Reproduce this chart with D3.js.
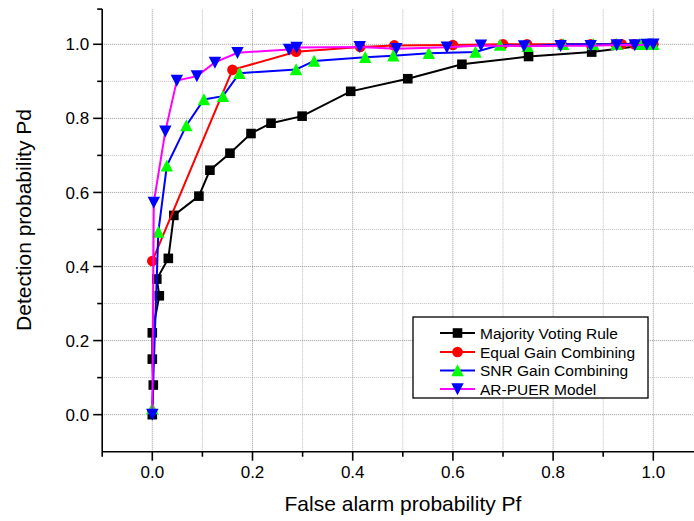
<!DOCTYPE html>
<html><head><meta charset="utf-8">
<script src="https://cdn.jsdelivr.net/npm/d3@7/dist/d3.min.js"></script>
<style>html,body{margin:0;padding:0;background:#fff;overflow:hidden}svg{display:block;font-family:"Liberation Sans",Arial,sans-serif}</style>
</head><body><svg id="c" width="694" height="521"></svg>
<script>
const seriesNames = ["Majority Voting Rule","Equal Gain Combining","SNR Gain Combining","AR-PUER Model"];
const majorityPf = [0,0.002,0,0,0.014,0.009,0.032,0.043,0.093,0.115,0.155,0.197,0.237,0.299,0.396,0.510,0.618,0.751,0.877,1.0];
const majorityPd = [0,0.080,0.150,0.221,0.321,0.366,0.422,0.538,0.590,0.660,0.706,0.759,0.787,0.806,0.873,0.907,0.946,0.967,0.979,1.0];
const equalPf = [0,0.160,0.287,0.415,0.483,0.600,0.700,0.748,0.817,0.875,0.925,0.937,0.962,0.985,1.0];
const equalPd = [0.415,0.931,0.980,0.993,0.997,0.998,1.0,1.0,1.0,1.0,1.0,1.0,1.0,1.0,1.0];
const snrPf = [0,0.012,0.029,0.068,0.103,0.141,0.174,0.287,0.323,0.425,0.481,0.552,0.645,0.694,0.749,0.820,0.880,0.927,0.973,0.985,1.0];
const snrPd = [0.017,0.493,0.672,0.781,0.851,0.860,0.922,0.932,0.955,0.965,0.969,0.976,0.979,0.998,0.995,1.0,1.0,1.0,1.0,1.0,1.0];
const arPf = [0,0.003,0.026,0.049,0.089,0.125,0.170,0.273,0.288,0.414,0.487,0.588,0.656,0.742,0.815,0.875,0.927,0.963,0.987,1.0];
const arPd = [0,0.573,0.765,0.902,0.914,0.951,0.977,0.986,0.991,0.993,0.988,0.992,0.997,0.995,0.996,0.996,0.998,0.998,0.999,1.0];
const xTickLabels = ["0.0","0.2","0.4","0.6","0.8","1.0"];
const yTickLabels = ["0.0","0.2","0.4","0.6","0.8","1.0"];
const xTitle = "False alarm probability Pf";
const yTitle = "Detection probability Pd";

const svg = d3.select("#c");
const x = d3.scaleLinear().domain([-0.1, 1.1]).range([102.2, 703.4]);
const y = d3.scaleLinear().domain([-0.1, 1.095]).range([451.7, 9.1]);

// grid
const gridVals = d3.range(0, 11).map(i => i / 10);
const grid = svg.append("g");
gridVals.forEach((v, i) => {
  const major = i % 2 === 0;
  grid.append("line").attr("x1", x(v)).attr("x2", x(v)).attr("y1", y(-0.1)).attr("y2", y(1.095))
    .attr("stroke", major ? "#999" : "#bbb").attr("stroke-width", 1).attr("stroke-dasharray", "1,1");
  grid.append("line").attr("x1", x(-0.1)).attr("x2", 694).attr("y1", y(v)).attr("y2", y(v))
    .attr("stroke", major ? "#999" : "#bbb").attr("stroke-width", 1).attr("stroke-dasharray", "1,1");
});

// axes
const xMinor = d3.range(-1, 11).map(i => i / 10);
const xAxis = svg.append("g").attr("transform", `translate(0,${y(-0.1)})`);
xAxis.append("line").attr("x1", x(-0.1)).attr("x2", 694).attr("stroke", "#000").attr("stroke-width", 1.6);
xMinor.forEach((v, i) => {
  const major = Math.round(v * 10) % 2 === 0;
  xAxis.append("line").attr("x1", x(v)).attr("x2", x(v)).attr("y1", 0).attr("y2", major ? 9 : 5)
    .attr("stroke", "#000").attr("stroke-width", 1.6);
});
xTickLabels.forEach(t => {
  xAxis.append("text").attr("x", x(+t)).attr("y", 26).attr("text-anchor", "middle")
    .attr("font-size", 17).attr("fill", "#000").text(t);
});

const yAxis = svg.append("g").attr("transform", `translate(${x(-0.1)},0)`);
yAxis.append("line").attr("y1", y(-0.1)).attr("y2", y(1.095)).attr("stroke", "#000").attr("stroke-width", 1.6);
d3.range(0, 11).map(i => i / 10).forEach((v, i) => {
  const major = i % 2 === 0;
  yAxis.append("line").attr("x1", 0).attr("x2", major ? -9 : -5).attr("y1", y(v)).attr("y2", y(v))
    .attr("stroke", "#000").attr("stroke-width", 1.6);
});
yAxis.append("line").attr("x1", 0).attr("x2", -5).attr("y1", y(1.095)).attr("y2", y(1.095)).attr("stroke", "#000").attr("stroke-width", 1.6);
yTickLabels.forEach(t => {
  yAxis.append("text").attr("x", -13).attr("y", y(+t)).attr("dy", "0.36em").attr("text-anchor", "end")
    .attr("font-size", 17).attr("fill", "#000").text(t);
});

svg.append("text").attr("x", 403).attr("y", 511).attr("text-anchor", "middle").attr("font-size", 21).text(xTitle);
svg.append("text").attr("transform", "translate(31,220) rotate(-90)").attr("text-anchor", "middle").attr("font-size", 21).text(yTitle);

// markers
const markerPath = {
  square: "M-4.8,-4.8H4.8V4.8H-4.8Z",
  circle: "M5.3,0A5.3,5.3 0 1,1 -5.3,0A5.3,5.3 0 1,1 5.3,0Z",
  up: "M0,-6.2L6.2,5.8L-6.2,5.8Z",
  down: "M0,6.2L6.2,-5.8L-6.2,-5.8Z"
};
const series = [
  {pf: majorityPf, pd: majorityPd, line: "#000000", fill: "#000000", shape: "square"},
  {pf: equalPf, pd: equalPd, line: "#ff0000", fill: "#ff0000", shape: "circle"},
  {pf: snrPf, pd: snrPd, line: "#0000ff", fill: "#00ff00", shape: "up"},
  {pf: arPf, pd: arPd, line: "#ff00ff", fill: "#0000ff", shape: "down"}
];
const lineGen = d3.line().x(d => x(d[0])).y(d => y(d[1]));
series.forEach(s => {
  const pts = s.pf.map((v, i) => [v, s.pd[i]]);
  const g = svg.append("g");
  g.append("path").attr("d", lineGen(pts)).attr("fill", "none").attr("stroke", s.line).attr("stroke-width", 2);
  g.selectAll("path.m").data(pts).enter().append("path").attr("class", "m")
    .attr("transform", d => `translate(${x(d[0])},${y(d[1])})`).attr("d", markerPath[s.shape]).attr("fill", s.fill);
});

// legend
const lg = svg.append("g");
lg.append("rect").attr("x", 413).attr("y", 317).attr("width", 235).attr("height", 81)
  .attr("fill", "#fff").attr("stroke", "#000").attr("stroke-width", 1.3);
const rowY = [333, 352, 370.5, 389];
series.forEach((s, i) => {
  lg.append("line").attr("x1", 440).attr("x2", 475).attr("y1", rowY[i]).attr("y2", rowY[i]).attr("stroke", s.line).attr("stroke-width", 2);
  lg.append("path").attr("transform", `translate(457.5,${rowY[i]})`).attr("d", markerPath[s.shape]).attr("fill", s.fill);
  lg.append("text").attr("x", 480).attr("y", rowY[i]).attr("dy", "0.36em").attr("font-size", 15.5).text(seriesNames[i]);
});
</script></body></html>
